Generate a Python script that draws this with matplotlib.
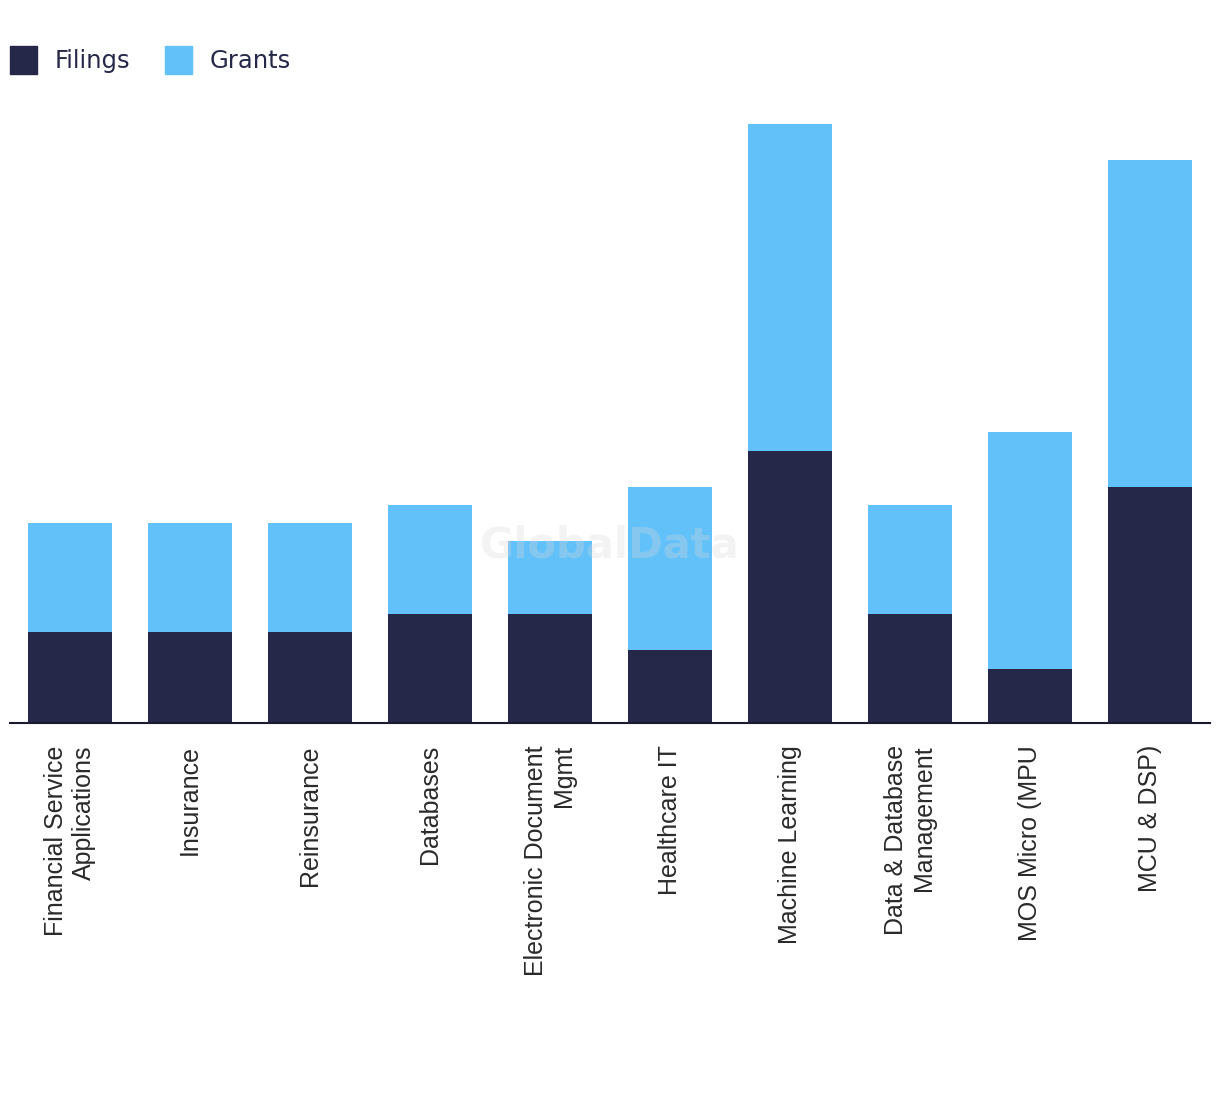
"""Stacked bar chart of patent filings and grants by technology area."""

import matplotlib

matplotlib.use("Agg")

import matplotlib.pyplot as plt
import numpy as np
from matplotlib.patches import Patch

categories = [
    "Financial Service\nApplications",
    "Insurance",
    "Reinsurance",
    "Databases",
    "Electronic Document\nMgmt",
    "Healthcare IT",
    "Machine Learning",
    "Data & Database\nManagement",
    "MOS Micro (MPU",
    "MCU & DSP)",
]
filings = [5, 5, 5, 6, 6, 4, 15, 6, 3, 13]
grants = [6, 6, 6, 6, 4, 9, 18, 6, 13, 18]

DARK = "#262849"
LIGHT = "#62C1F9"

fig = plt.figure(figsize=(12.2, 10.94), dpi=100)
ax = fig.add_axes([10 / 1220, 371 / 1094, 1200 / 1220, 623 / 1094])

x = np.arange(len(categories))
ax.bar(x, filings, width=0.7, color=DARK, zorder=2)
ax.bar(x, grants, width=0.7, bottom=filings, color=LIGHT, zorder=2)

ax.set_xlim(-0.5, len(categories) - 0.5)
ax.set_ylim(0, 34.3)
ax.set_yticks([])
ax.set_xticks(x)
ax.set_xticklabels(
    categories,
    rotation=90,
    ha="center",
    va="top",
    multialignment="right",
    fontsize=18,
    family="Liberation Sans",
    color="#2a2a2a",
)
ax.tick_params(axis="x", length=0, pad=16)
for side in ["top", "right", "left"]:
    ax.spines[side].set_visible(False)
ax.spines["bottom"].set_color("#1a1a2e")
ax.spines["bottom"].set_linewidth(1.5)
ax.spines["bottom"].set_zorder(3)

ax.text(
    0.5,
    0.285,
    "GlobalData",
    transform=ax.transAxes,
    ha="center",
    va="center",
    fontsize=30,
    fontweight="bold",
    color="#d8d8d8",
    alpha=0.3,
    zorder=5,
)

handles = [Patch(color=DARK, label="Filings"), Patch(color=LIGHT, label="Grants")]
fig.legend(
    handles=handles,
    loc="upper left",
    bbox_to_anchor=(10 / 1220, 0.958),
    borderaxespad=0,
    borderpad=0,
    ncol=2,
    frameon=False,
    fontsize=17.5,
    handlelength=1.12,
    handleheight=1.38,
    handletextpad=0.7,
    columnspacing=1.45,
    labelcolor="#262849",
)

fig.savefig("out.png", dpi=100)
